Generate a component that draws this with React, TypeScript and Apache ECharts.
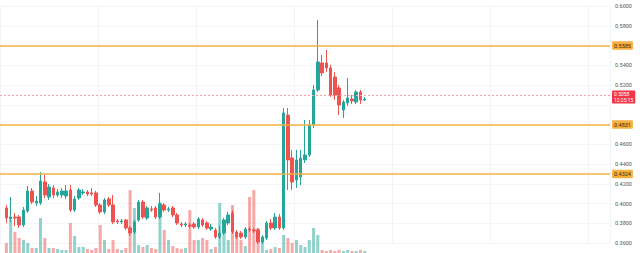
import React, { useEffect, useRef } from "react";
import * as echarts from "echarts";

// Time slots on the x axis: one leading slot, the traded candles, then empty future space.
const slotCount = 143;
const slotLabels: string[] = Array.from({ length: slotCount }, (_, i) => `T${i}`);

// [open, close, low, high]
const candles: [number, number, number, number][] = [
  [0.3955, 0.3853, 0.3803, 0.3985],
  [0.3843, 0.3863, 0.3813, 0.4066],
  [0.3863, 0.3853, 0.3772, 0.3904],
  [0.3863, 0.3782, 0.3752, 0.3884],
  [0.3782, 0.3934, 0.3762, 0.3965],
  [0.3924, 0.4127, 0.3904, 0.4177],
  [0.4127, 0.4015, 0.3995, 0.4157],
  [0.4005, 0.4025, 0.3975, 0.4076],
  [0.4005, 0.4228, 0.3985, 0.4319],
  [0.4218, 0.4086, 0.4056, 0.4289],
  [0.4066, 0.4167, 0.4036, 0.4198],
  [0.4157, 0.4086, 0.4056, 0.4187],
  [0.4086, 0.4117, 0.4066, 0.4147],
  [0.4086, 0.4127, 0.4056, 0.4157],
  [0.4076, 0.4127, 0.4046, 0.4187],
  [0.4137, 0.3934, 0.3914, 0.4187],
  [0.3934, 0.4046, 0.3914, 0.4076],
  [0.4056, 0.4137, 0.4036, 0.4157],
  [0.4107, 0.4117, 0.4086, 0.4147],
  [0.4117, 0.4096, 0.4076, 0.4137],
  [0.4107, 0.4096, 0.4076, 0.4157],
  [0.4107, 0.3985, 0.3965, 0.4127],
  [0.3985, 0.3914, 0.3894, 0.4005],
  [0.3914, 0.4036, 0.3894, 0.4056],
  [0.4046, 0.3985, 0.3965, 0.4066],
  [0.3985, 0.3813, 0.3793, 0.4086],
  [0.3823, 0.3813, 0.3793, 0.3843],
  [0.3813, 0.3823, 0.3793, 0.3843],
  [0.3833, 0.3752, 0.3732, 0.3843],
  [0.3752, 0.3701, 0.3671, 0.3772],
  [0.3712, 0.3813, 0.3691, 0.3833],
  [0.3833, 0.4015, 0.3813, 0.4036],
  [0.4015, 0.3863, 0.3843, 0.4036],
  [0.3853, 0.3955, 0.3833, 0.3975],
  [0.3945, 0.3934, 0.3914, 0.3975],
  [0.3955, 0.3863, 0.3843, 0.3975],
  [0.3863, 0.3995, 0.3843, 0.4107],
  [0.3985, 0.3934, 0.3914, 0.4005],
  [0.3934, 0.3945, 0.3914, 0.3965],
  [0.3955, 0.3884, 0.3863, 0.3975],
  [0.3884, 0.3803, 0.3782, 0.3904],
  [0.3793, 0.3782, 0.3762, 0.3813],
  [0.3782, 0.3793, 0.3762, 0.3813],
  [0.3782, 0.3772, 0.3752, 0.3803],
  [0.3793, 0.3762, 0.3742, 0.3813],
  [0.3762, 0.3843, 0.3742, 0.3863],
  [0.3833, 0.3782, 0.3762, 0.3853],
  [0.3803, 0.3752, 0.3732, 0.3823],
  [0.3742, 0.3762, 0.3722, 0.3793],
  [0.3732, 0.3661, 0.3641, 0.3752],
  [0.3661, 0.3701, 0.3641, 0.3772],
  [0.3701, 0.3833, 0.3681, 0.3853],
  [0.3803, 0.3884, 0.3782, 0.3914],
  [0.3904, 0.3712, 0.3691, 0.3934],
  [0.3712, 0.3661, 0.3641, 0.3732],
  [0.3701, 0.3661, 0.3641, 0.3722],
  [0.3661, 0.3742, 0.3641, 0.3762],
  [0.3742, 0.3732, 0.3712, 0.3762],
  [0.3732, 0.3722, 0.3701, 0.3752],
  [0.3732, 0.3610, 0.3590, 0.3752],
  [0.3610, 0.3661, 0.3590, 0.3681],
  [0.3651, 0.3803, 0.3631, 0.3823],
  [0.3803, 0.3752, 0.3732, 0.3843],
  [0.3752, 0.3863, 0.3732, 0.3904],
  [0.3863, 0.3752, 0.3732, 0.3894],
  [0.3752, 0.4917, 0.3732, 0.4967],
  [0.4896, 0.4441, 0.4137, 0.4967],
  [0.4461, 0.4218, 0.4137, 0.4542],
  [0.4238, 0.4441, 0.4157, 0.4542],
  [0.4269, 0.4461, 0.4187, 0.4542],
  [0.4441, 0.4491, 0.4410, 0.4846],
  [0.4491, 0.4795, 0.4471, 0.4846],
  [0.4795, 0.5150, 0.4765, 0.5200],
  [0.5150, 0.5433, 0.5129, 0.5859],
  [0.5423, 0.5322, 0.5291, 0.5504],
  [0.5423, 0.5372, 0.5332, 0.5555],
  [0.5372, 0.5099, 0.5079, 0.5403],
  [0.5281, 0.5099, 0.5048, 0.5332],
  [0.5170, 0.4998, 0.4896, 0.5200],
  [0.4947, 0.5028, 0.4866, 0.5048],
  [0.5018, 0.5069, 0.4988, 0.5271],
  [0.5058, 0.5038, 0.5008, 0.5099],
  [0.5028, 0.5129, 0.5008, 0.5150],
  [0.5129, 0.5048, 0.5008, 0.5150],
  [0.5048, 0.5058, 0.5038, 0.5079],
];

// Traded volume per candle (thousands)
const volumes: number[] = [
  120, 396, 252, 180, 156, 120, 60, 60, 420, 180,
  60, 60, 48, 36, 36, 360, 204, 72, 72, 48,
  36, 60, 336, 156, 48, 156, 48, 36, 60, 756,
  540, 96, 72, 96, 60, 48, 612, 276, 156, 84,
  60, 48, 60, 516, 156, 156, 180, 156, 48, 72,
  600, 396, 156, 576, 252, 156, 84, 672, 756, 300,
  156, 36, 48, 72, 60, 216, 180, 120, 156, 96,
  72, 156, 300, 216, 36, 24, 36, 24, 36, 24,
  36, 24, 24, 36, 24,
];

// Horizontal support / resistance levels
const levels: number[] = [0.5585, 0.4831, 0.4324];
const lastPrice = 0.5058;
const countdown = "12:25:15";

const priceMin = 0.36;
const priceMax = 0.6;
const priceStep = 0.02;
const volumeMax = 960;

const UP = "#26a69a";
const DOWN = "#ef5350";
const UP_VOL = "rgba(38,166,154,0.5)";
const DOWN_VOL = "rgba(239,83,80,0.5)";
const LEVEL = "#f5b041";
const FONT = "Roboto, 'Noto Sans', sans-serif";

export default function App() {
  const ref = useRef<HTMLDivElement>(null);

  useEffect(() => {
    if (!ref.current) return;
    const chart = echarts.init(ref.current, null, { renderer: "svg" });

    const markers = [...levels, lastPrice];
    const candleData: any[] = [["-", "-", "-", "-"], ...candles.map((c) => [c[0], c[1], c[2], c[3]])];
    const volumeData: any[] = [
      "-",
      ...volumes.map((v, i) => ({
        value: v,
        itemStyle: { color: candles[i][1] >= candles[i][0] ? UP_VOL : DOWN_VOL },
      })),
    ];

    chart.setOption({
      animation: false,
      backgroundColor: "#ffffff",
      textStyle: { fontFamily: FONT },
      grid: [
        { left: 0, right: 30, top: 6, bottom: 10 },
        { left: 0, right: 30, top: 173, bottom: 0 },
      ],
      xAxis: [
        {
          type: "category",
          data: slotLabels,
          gridIndex: 0,
          boundaryGap: true,
          axisLine: { show: false },
          axisTick: { show: false },
          axisLabel: { show: false },
          splitLine: { show: true, interval: 22, lineStyle: { color: "#f3f4f7", width: 1 } },
        },
        {
          type: "category",
          data: slotLabels,
          gridIndex: 1,
          boundaryGap: true,
          axisLine: { show: false },
          axisTick: { show: false },
          axisLabel: { show: false },
          splitLine: { show: false },
        },
      ],
      yAxis: [
        {
          type: "value",
          gridIndex: 0,
          position: "right",
          min: priceMin,
          max: priceMax,
          interval: priceStep,
          axisLine: { show: false },
          axisTick: { show: false },
          splitLine: { show: true, lineStyle: { color: "#f3f4f7", width: 1 } },
          axisLabel: {
            margin: 5,
            fontSize: 5.5,
            color: "#555555",
            fontFamily: FONT,
            formatter: (v: number) =>
              markers.some((m) => Math.abs(m - v) < 0.006) ? "" : v.toFixed(4),
          },
        },
        {
          type: "value",
          gridIndex: 1,
          min: 0,
          max: volumeMax,
          axisLine: { show: false },
          axisTick: { show: false },
          axisLabel: { show: false },
          splitLine: { show: false },
        },
      ],
      series: [
        {
          type: "bar",
          name: "Volume",
          xAxisIndex: 1,
          yAxisIndex: 1,
          barWidth: 3,
          z: 1,
          data: volumeData,
        },
        {
          type: "candlestick",
          name: "Price",
          xAxisIndex: 0,
          yAxisIndex: 0,
          barWidth: 3,
          z: 3,
          itemStyle: {
            color: UP,
            color0: DOWN,
            borderColor: UP,
            borderColor0: DOWN,
            borderWidth: 1,
          },
          data: candleData,
          markLine: {
            symbol: "none",
            silent: true,
            animation: false,
            data: [
              ...levels.map((v) => ({
                yAxis: v,
                lineStyle: { color: LEVEL, width: 1.5, type: "solid" },
                label: {
                  show: true,
                  position: "end",
                  distance: 2,
                  formatter: v.toFixed(4),
                  backgroundColor: LEVEL,
                  color: "#3d2a00",
                  fontSize: 5.5,
                  fontFamily: FONT,
                  padding: [1.5, 2, 1, 2],
                  borderRadius: 1,
                },
              })),
              {
                yAxis: lastPrice,
                lineStyle: { color: "#f6a3aa", width: 1, type: [2, 2] },
                label: {
                  show: true,
                  position: "end",
                  distance: 2,
                  offset: [0, 2],
                  formatter: `${lastPrice.toFixed(4)}\n${countdown}`,
                  backgroundColor: "#f23645",
                  color: "#ffffff",
                  fontSize: 5,
                  lineHeight: 5.5,
                  fontFamily: FONT,
                  padding: [1, 2, 1, 2],
                  borderRadius: 1,
                },
              },
            ],
          },
        },
      ],
    });

    return () => chart.dispose();
  }, []);

  return (
    <div
      ref={ref}
      style={{ position: "fixed", left: 0, top: 0, width: 640, height: 253, background: "#fff" }}
    />
  );
}
